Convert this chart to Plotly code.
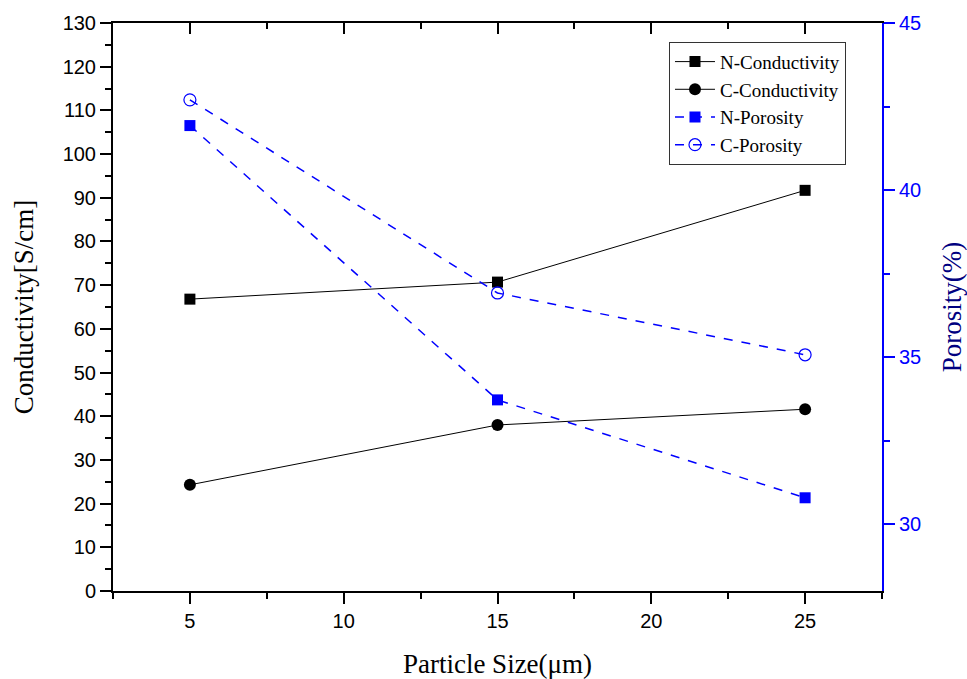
import plotly.graph_objects as go

particle_size = [5, 15, 25]
n_conductivity = [66.8, 70.7, 91.7]
c_conductivity = [24.3, 38.0, 41.6]
n_porosity = [41.93, 33.72, 30.79]
c_porosity = [42.70, 36.92, 35.07]

fig = go.Figure()
fig.add_trace(go.Scatter(x=particle_size, y=n_conductivity, name="N-Conductivity",
                         mode="lines+markers", line=dict(color="black", width=1),
                         marker=dict(symbol="square", size=11, color="black")))
fig.add_trace(go.Scatter(x=particle_size, y=c_conductivity, name="C-Conductivity",
                         mode="lines+markers", line=dict(color="black", width=1),
                         marker=dict(symbol="circle", size=12, color="black")))
fig.add_trace(go.Scatter(x=particle_size, y=n_porosity, name="N-Porosity", yaxis="y2",
                         mode="lines+markers", line=dict(color="#0000FF", width=1.5, dash="dash"),
                         marker=dict(symbol="square", size=11, color="#0000FF")))
fig.add_trace(go.Scatter(x=particle_size, y=c_porosity, name="C-Porosity", yaxis="y2",
                         mode="lines+markers", line=dict(color="#0000FF", width=1.5, dash="dash"),
                         marker=dict(symbol="circle-open", size=12, color="#0000FF", line=dict(width=1.2))))
# invisible trace to tie the mirrored top axis
fig.add_trace(go.Scatter(x=particle_size, y=n_conductivity, xaxis="x2", mode="markers",
                         marker=dict(opacity=0), showlegend=False, hoverinfo="skip"))

tickfont = dict(family="Liberation Sans, Arial", size=20, color="black")
serif = "Liberation Serif, Times New Roman"
fig.update_layout(
    width=967, height=679,
    margin=dict(l=113, r=85, t=23, b=88),
    plot_bgcolor="white", paper_bgcolor="white",
    showlegend=True,
    legend=dict(x=0.723, y=0.967, xanchor="left", yanchor="top",
                font=dict(family=serif, size=19, color="black"),
                bordercolor="#333333", borderwidth=1, bgcolor="white",
                tracegroupgap=0, itemwidth=40),
    xaxis=dict(range=[2.5, 27.5], tick0=0, dtick=5, showgrid=False, zeroline=False,
               automargin=False,
               showline=True, linecolor="black", linewidth=2,
               ticks="outside", ticklen=11, tickwidth=2, tickcolor="black",
               minor=dict(dtick=2.5, tick0=0, ticks="outside", ticklen=6, tickwidth=2, tickcolor="black"),
               tickfont=tickfont,
               title=dict(text="Particle Size(μm)", standoff=24,
                          font=dict(family=serif, size=27, color="black"))),
    xaxis2=dict(range=[2.5, 27.5], overlaying="x", side="top", anchor="y", tick0=0, dtick=5,
                automargin=False,
                showgrid=False, zeroline=False, showticklabels=False,
                showline=True, linecolor="black", linewidth=2,
                ticks="inside", ticklen=11, tickwidth=2, tickcolor="black",
                minor=dict(dtick=2.5, tick0=0, ticks="inside", ticklen=6, tickwidth=2, tickcolor="black")),
    yaxis=dict(range=[0, 130], tick0=0, dtick=10, showgrid=False, zeroline=False,
               automargin=False,
               showline=True, linecolor="black", linewidth=2,
               ticks="outside", ticklen=11, tickwidth=2, tickcolor="black",
               minor=dict(dtick=5, tick0=0, ticks="outside", ticklen=6, tickwidth=2, tickcolor="black"),
               tickfont=tickfont,
               title=dict(text="Conductivity[S/cm]", standoff=21,
                          font=dict(family=serif, size=27, color="black"))),
    yaxis2=dict(range=[28, 45], tick0=0, dtick=5, overlaying="y", side="right", anchor="x",
                automargin=False,
                showgrid=False, zeroline=False,
                showline=True, linecolor="#0000FF", linewidth=2,
                ticks="outside", ticklen=11, tickwidth=2, tickcolor="#0000FF",
                minor=dict(dtick=2.5, tick0=0, ticks="outside", ticklen=6, tickwidth=2, tickcolor="#0000FF"),
                tickfont=dict(family="Liberation Sans, Arial", size=20, color="#0000FF"),
                title=dict(text="Porosity(%)", standoff=24,
                           font=dict(family=serif, size=27, color="#000080"))),
)

fig.write_html("out.html")
